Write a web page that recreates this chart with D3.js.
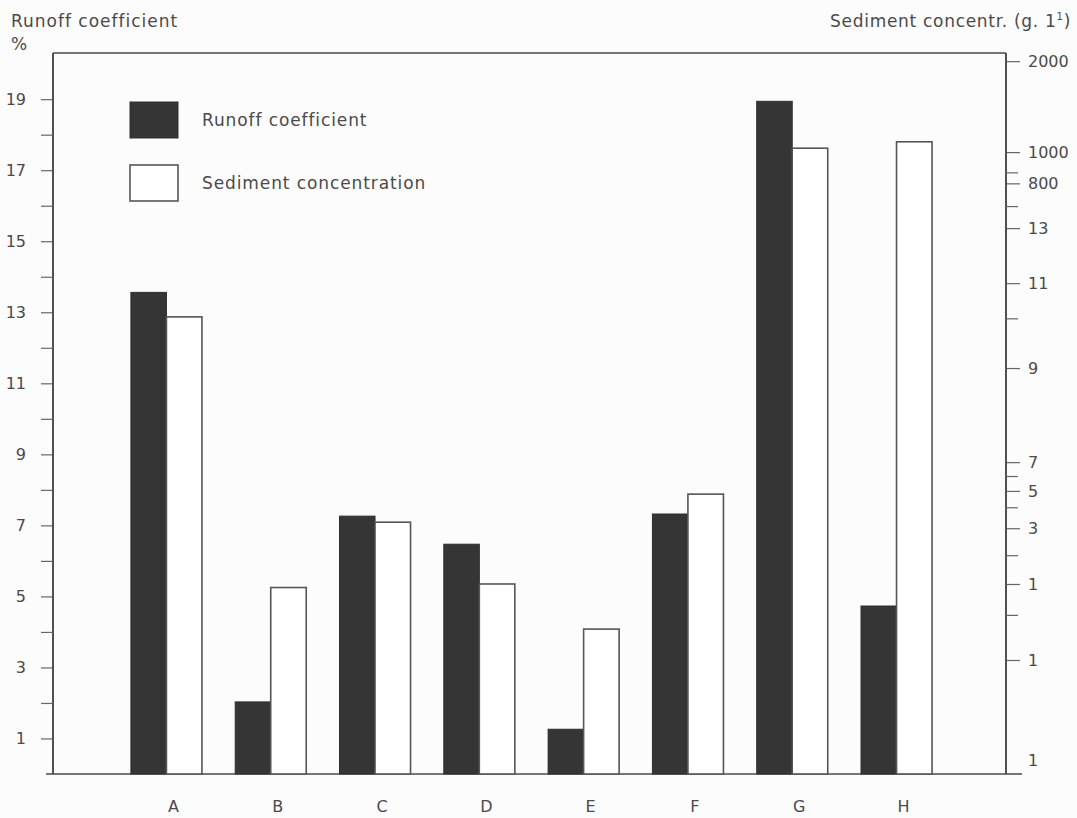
<!DOCTYPE html>
<html>
<head>
<meta charset="utf-8">
<script src="https://cdn.jsdelivr.net/npm/d3@7"></script>
<style>
  html, body { margin: 0; padding: 0; background: #fcfcfc; }
  svg { display: block; }
  text { font-family: "DejaVu Sans", "Liberation Sans", Arial, sans-serif; fill: #4a4a4a; }
</style>
</head>
<body>
<svg id="chart" width="1077" height="818"></svg>
<script>
// Catchments
const categories = ["A", "B", "C", "D", "E", "F", "G", "H"];

// Runoff coefficient (%), left axis
const runoff = [13.56, 2.03, 7.26, 6.47, 1.26, 7.32, 18.94, 4.73];

// Sediment concentration, in units of the right-hand axis
const sediment = [12.87, 5.25, 7.09, 5.35, 4.08, 7.88, 17.62, 17.80];

// Left axis ticks
const leftMajorTicks = [1, 3, 5, 7, 9, 11, 13, 15, 17, 19];
const leftMinorTicks = [2, 4, 6, 8, 10, 12, 14, 16, 18];

// Right axis ticks and their printed labels
const rightTickValues = [20.07, 17.51, 16.63, 15.37, 13.82, 11.43, 8.78, 7.97, 6.92, 5.35, 3.21, 0.39];
const rightTickLabels = ["2000", "1000", "800", "13", "11", "9", "7", "5", "3", "1", "1", "1"];
const rightMinorTicks = [16.94, 15.99, 12.83, 8.39, 7.51, 6.16, 4.48];

const seriesNames = ["Runoff coefficient", "Sediment concentration"];

const svg = d3.select("#chart");
const plotLeft = 53, plotRight = 1006, plotTop = 53, plotBottom = 774;
const ink = "#4a4a4a";
const fontFam = "'DejaVu Sans', 'Liberation Sans', Arial, sans-serif";

const y = d3.scaleLinear().domain([0, 20.3]).range([plotBottom, plotTop]);
const y2 = d3.scaleLinear().domain([0, 20.3]).range([plotBottom, plotTop]);

const x0 = d3.scaleBand().domain(categories).range([plotLeft, plotRight])
  .paddingInner(0.319).paddingOuter(0.728).align(0.513);
const x1 = d3.scaleBand().domain(seriesNames).range([0, x0.bandwidth()]).padding(0);

// frame
svg.append("line").attr("x1", plotLeft).attr("x2", plotRight).attr("y1", plotTop).attr("y2", plotTop)
  .attr("stroke", ink).attr("stroke-width", 1.6);
svg.append("line").attr("x1", 46).attr("x2", 1022).attr("y1", plotBottom).attr("y2", plotBottom)
  .attr("stroke", ink).attr("stroke-width", 1.6);

// bars
const groups = svg.append("g").selectAll("g").data(categories).join("g")
  .attr("transform", d => `translate(${x0(d)},0)`);

groups.append("rect")
  .attr("x", x1(seriesNames[0]))
  .attr("width", x1.bandwidth())
  .attr("y", (d, i) => y(runoff[i]))
  .attr("height", (d, i) => y(0) - y(runoff[i]))
  .attr("fill", "#353535").attr("stroke", "#2e2e2e").attr("stroke-width", 1);

groups.append("rect")
  .attr("x", x1(seriesNames[1]))
  .attr("width", x1.bandwidth())
  .attr("y", (d, i) => y2(sediment[i]))
  .attr("height", (d, i) => y2(0) - y2(sediment[i]))
  .attr("fill", "#ffffff").attr("stroke", "#555").attr("stroke-width", 1.6);

// left axis
const gl = svg.append("g").attr("transform", `translate(${plotLeft},0)`);
gl.call(d3.axisLeft(y).tickValues(leftMajorTicks).tickSize(12).tickPadding(15).tickSizeOuter(0));
gl.append("g").call(d3.axisLeft(y).tickValues(leftMinorTicks).tickSize(12).tickFormat(""));
gl.selectAll(".domain").attr("stroke", ink).attr("stroke-width", 1.6)
  .attr("d", `M0,${plotTop}V${plotBottom}`);
gl.selectAll(".tick line").attr("stroke", "#666").attr("stroke-width", 1.2);
gl.selectAll("text").attr("font-size", 16).attr("fill", ink).attr("font-family", fontFam);

// right axis
const gr = svg.append("g").attr("transform", `translate(${plotRight},0)`);
gr.call(d3.axisRight(y2).tickValues(rightTickValues)
  .tickFormat((d, i) => rightTickLabels[i]).tickSize(14).tickPadding(8).tickSizeOuter(0));
gr.append("g").call(d3.axisRight(y2).tickValues(rightMinorTicks).tickSize(12).tickFormat(""));
gr.selectAll(".domain").attr("stroke", ink).attr("stroke-width", 1.6)
  .attr("d", `M0,${plotTop}V${plotBottom}`);
gr.selectAll(".tick line").attr("stroke", "#666").attr("stroke-width", 1.2);
gr.selectAll(".tick").filter(d => d === rightTickValues[rightTickValues.length - 1])
  .select("line").attr("stroke-opacity", 0);
gr.selectAll("text").attr("font-size", 16).attr("fill", ink).attr("font-family", fontFam);

// category axis
const gx = svg.append("g").attr("transform", `translate(7,${plotBottom})`);
gx.call(d3.axisBottom(x0).tickSize(0).tickPadding(27));
gx.select(".domain").remove();
gx.selectAll("text").attr("font-size", 16).attr("fill", ink).attr("font-family", fontFam);

// axis titles
svg.append("text").attr("x", 11).attr("y", 27).attr("font-size", 17)
  .attr("letter-spacing", 1).text("Runoff coefficient");
svg.append("text").attr("x", 11).attr("y", 50).attr("font-size", 17).text("%");
const rt = svg.append("text").attr("x", 1071).attr("y", 27).attr("font-size", 17)
  .attr("letter-spacing", 0.7).attr("text-anchor", "end");
rt.append("tspan").text("Sediment concentr. (g. 1");
rt.append("tspan").attr("font-size", 10).attr("dy", -7).text("1");
rt.append("tspan").attr("dy", 7).text(")");

// legend
const legend = svg.append("g").selectAll("g").data(seriesNames).join("g")
  .attr("transform", (d, i) => `translate(130,${102 + i * 63})`);
legend.append("rect").attr("width", 48).attr("height", 36)
  .attr("fill", (d, i) => i === 0 ? "#353535" : "#ffffff")
  .attr("stroke", (d, i) => i === 0 ? "#2e2e2e" : "#555")
  .attr("stroke-width", (d, i) => i === 0 ? 1 : 1.6);
legend.append("text").attr("x", 72).attr("y", 18).attr("dy", "0.35em")
  .attr("font-size", 17).attr("letter-spacing", 0.9).text(d => d);
</script>
</body>
</html>
